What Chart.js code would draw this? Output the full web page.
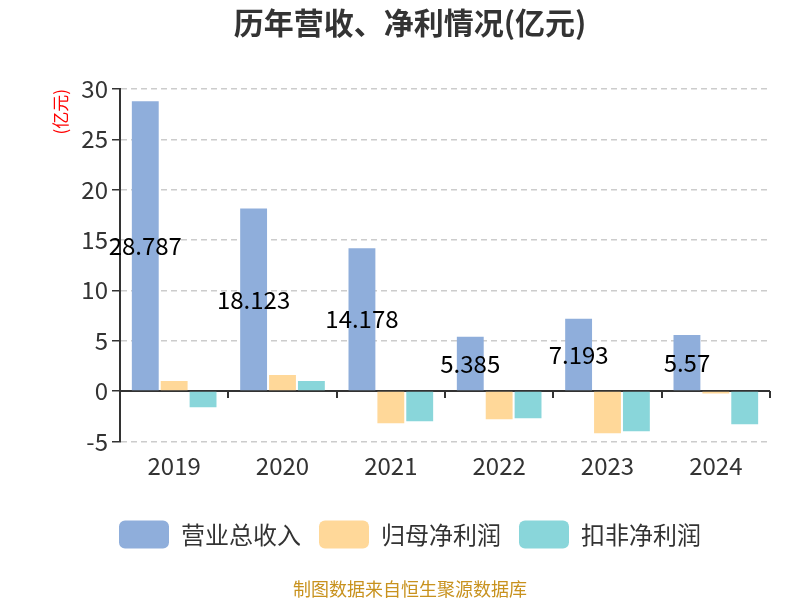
<!DOCTYPE html>
<html>
<head>
<meta charset="utf-8">
<script src="https://cdn.jsdelivr.net/npm/chart.js@4/dist/chart.umd.min.js"></script>
<style>
  html, body { margin: 0; padding: 0; background: #fff; }
  #wrap { width: 800px; height: 600px; }
</style>
</head>
<body>
<div id="wrap"><canvas id="barChart" width="800" height="600"></canvas></div>
<script>
var years = ['2019', '2020', '2021', '2022', '2023', '2024'];
var revenue = [28.787, 18.123, 14.178, 5.385, 7.193, 5.57];
var netProfit = [1.0, 1.6, -3.2, -2.8, -4.2, -0.25];
var deductedProfit = [-1.6, 1.0, -3.0, -2.7, -4.0, -3.3];
var seriesNames = ['营业总收入', '归母净利润', '扣非净利润'];

var FONT = '"Noto Sans CJK SC", "Noto Sans", sans-serif';

// zero line + small ticks on it
var zeroLine = {
    id: 'zeroLine',
    beforeDatasetsDraw: function (chart) {
        var x = chart.scales.x, y = chart.scales.y;
        var y0 = y.getPixelForValue(0);
        var c = chart.ctx;
        c.save();
        c.strokeStyle = '#333';
        c.lineWidth = 2;
        c.beginPath();
        c.moveTo(x.left, y0);
        c.lineTo(x.right, y0);
        c.stroke();
        var step = (x.right - x.left) / years.length;
        for (var i = 0; i <= years.length; i++) {
            var px = Math.round(x.left + step * i);
            c.beginPath();
            c.moveTo(px, y0);
            c.lineTo(px, y0 + 7);
            c.stroke();
        }
        c.restore();
    }
};

// value labels in the middle of revenue bars
var barLabels = {
    id: 'barLabels',
    afterDatasetsDraw: function (chart) {
        var c = chart.ctx;
        var meta = chart.getDatasetMeta(0);
        c.save();
        c.font = '24px ' + FONT;
        c.fillStyle = '#000';
        c.textAlign = 'center';
        c.textBaseline = 'middle';
        meta.data.forEach(function (bar, i) {
            c.fillText(String(revenue[i]), bar.x, (bar.y + bar.base) / 2);
        });
        c.restore();
    }
};

var ctx = document.getElementById('barChart').getContext('2d');
var myChart = new Chart(ctx, {
    type: 'bar',
    data: {
        labels: years,
        datasets: [{
            label: seriesNames[0],
            data: revenue,
            backgroundColor: '#8FAEDB'
        }, {
            label: seriesNames[1],
            data: netProfit,
            backgroundColor: '#FFD899'
        }, {
            label: seriesNames[2],
            data: deductedProfit,
            backgroundColor: '#89D6DA'
        }]
    },
    options: {
        responsive: false,
        animation: false,
        layout: { padding: { left: 50, right: 30, top: 0, bottom: 0 } },
        datasets: {
            bar: { categoryPercentage: 0.8, barPercentage: 0.93 }
        },
        scales: {
            x: {
                grid: { drawOnChartArea: false, drawTicks: false },
                border: { display: false },
                ticks: { color: '#333', font: { family: FONT, size: 24 }, padding: 10 },
                afterFit: function (scale) { scale.height = 61; }
            },
            y: {
                min: -5,
                max: 30,
                ticks: { stepSize: 5, color: '#333', font: { family: FONT, size: 24 }, padding: 4 },
                grid: { color: '#ccc', tickColor: '#333', tickLength: 8, tickBorderDash: [], lineWidth: 1.5 },
                border: { color: '#333', width: 2, dash: [6, 4] },
                title: {
                    display: true,
                    text: '(亿元)',
                    align: 'end',
                    color: 'red',
                    font: { family: FONT, size: 17 },
                    padding: { top: 0, bottom: 0 }
                },
                afterFit: function (scale) { scale.width = 70; }
            }
        },
        plugins: {
            title: {
                display: true,
                text: '历年营收、净利情况(亿元)',
                color: '#333',
                font: { family: FONT, size: 30, weight: 'bold' },
                padding: { top: 5, bottom: 48 }
            },
            subtitle: {
                display: true,
                position: 'bottom',
                text: '制图数据来自恒生聚源数据库',
                color: '#C8921E',
                font: { family: FONT, size: 18 },
                padding: { top: 20, bottom: 0 }
            },
            legend: {
                position: 'bottom',
                labels: {
                    boxWidth: 50,
                    boxHeight: 28,
                    useBorderRadius: true,
                    borderRadius: 6,
                    color: '#333',
                    padding: 18,
                    font: { family: FONT, size: 24 }
                }
            },
            tooltip: { enabled: false }
        }
    },
    plugins: [zeroLine, barLabels]
});
</script>
</body>
</html>
